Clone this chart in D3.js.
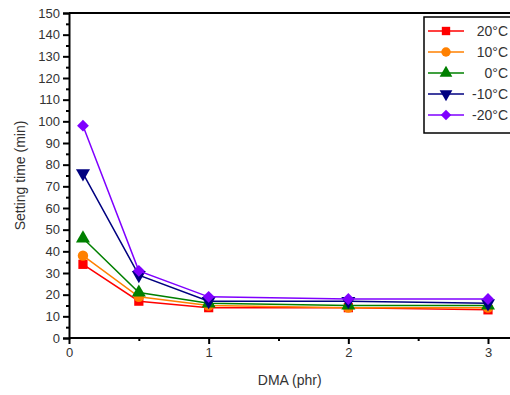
<!DOCTYPE html>
<html>
<head>
<meta charset="utf-8">
<script src="https://cdn.jsdelivr.net/npm/d3@7"></script>
<style>
  body { margin: 0; background: #fff; }
  text { font-family: "Liberation Sans", Arial, sans-serif; fill: #333; }
</style>
</head>
<body>
<svg id="chart" width="510" height="395"></svg>
<script>
let dma = [0.1, 0.5, 1, 2, 3];
let labels = ["20°C", "10°C", "0°C", "-10°C", "-20°C"];
let colors = ["#ff0000", "#ff8000", "#008000", "#000080", "#7f00ff"];
let symbols = [d3.symbolSquare, d3.symbolCircle, d3.symbolTriangle, d3.symbolTriangle, d3.symbolSquare];
let rotations = [0, 0, 0, 180, 45];
let t20 = [34, 17, 14, 14, 13];
let t10 = [38, 19, 15, 14, 14];
let t0 = [46, 21, 16, 15, 15];
let tm10 = [76, 29, 17, 17, 16];
let tm20 = [98, 31, 19, 18, 18];
let series = [t20, t10, t0, tm10, tm20];
let yTicks = d3.range(0, 151, 10);
let xTicks = [0, 1, 2, 3];

let svg = d3.select("#chart");

let x = d3.scaleLinear().domain([0, 3]).range([69, 488]);
let y = d3.scaleLinear().domain([0, 150]).range([338, 13]);

// frame top line
svg.append("line")
  .attr("x1", x(0)).attr("x2", 510)
  .attr("y1", y(150)).attr("y2", y(150))
  .attr("stroke", "#000").attr("stroke-width", 2);

// y axis
let yAxis = d3.axisLeft(y).tickValues(yTicks).tickSize(6).tickPadding(3);
let gy = svg.append("g").attr("transform", `translate(${x(0)},0)`).call(yAxis);
gy.select(".domain").attr("stroke-width", 2);
gy.selectAll(".tick line").attr("stroke-width", 2);
gy.selectAll(".tick text").attr("font-size", 13).attr("fill", "#333").attr("font-family", "Liberation Sans, Arial, sans-serif");
let gyMinor = svg.append("g").attr("transform", `translate(${x(0)},0)`)
  .call(d3.axisLeft(y).tickValues(d3.range(5, 150, 10)).tickSize(3).tickFormat(""));
gyMinor.select(".domain").remove();
gyMinor.selectAll(".tick line").attr("stroke-width", 2);

// x axis
let xAxis = d3.axisBottom(x).tickValues(xTicks).tickSize(6).tickPadding(4).tickFormat(d3.format("d"));
let gx = svg.append("g").attr("transform", `translate(0,${y(0)})`).call(xAxis);
gx.select(".domain").remove();
gx.append("line").attr("x1", x(0)).attr("x2", 510).attr("stroke", "#000").attr("stroke-width", 2);
gx.selectAll(".tick line").attr("stroke-width", 2);
gx.selectAll(".tick text").attr("font-size", 13).attr("fill", "#333").attr("font-family", "Liberation Sans, Arial, sans-serif");
let gxMinor = svg.append("g").attr("transform", `translate(0,${y(0)})`)
  .call(d3.axisBottom(x).tickValues([0.5, 1.5, 2.5]).tickSize(3).tickFormat(""));
gxMinor.select(".domain").remove();
gxMinor.selectAll(".tick line").attr("stroke-width", 2);

// axis titles
svg.append("text").attr("x", x(1.58)).attr("y", 385)
  .attr("text-anchor", "middle").attr("font-size", 14).text("DMA (phr)");
svg.append("text").attr("transform", `translate(25,${y(75)}) rotate(-90)`)
  .attr("text-anchor", "middle").attr("font-size", 14).text("Setting time (min)");

// series
let line = d3.line().x((d, i) => x(dma[i])).y(d => y(d));
series.forEach((s, k) => {
  svg.append("path").datum(s)
    .attr("d", line).attr("fill", "none")
    .attr("stroke", colors[k]).attr("stroke-width", 1.5);
  svg.selectAll(null).data(s).enter()
    .append("path")
    .attr("d", d3.symbol().type(symbols[k]).size(k == 4 ? 70 : 85))
    .attr("transform", (d, i) => `translate(${x(dma[i])},${y(d)}) rotate(${rotations[k]})`)
    .attr("fill", colors[k]);
});

// legend
let lg = svg.append("g");
lg.append("rect").attr("x", 424).attr("y", 17).attr("width", 100).attr("height", 116)
  .attr("fill", "#fff").attr("stroke", "#000").attr("stroke-width", 1.5);
labels.forEach((lab, k) => {
  let ly = 31 + k * 21;
  lg.append("line").attr("x1", 428).attr("x2", 464).attr("y1", ly).attr("y2", ly)
    .attr("stroke", colors[k]).attr("stroke-width", 1.5);
  lg.append("path")
    .attr("d", d3.symbol().type(symbols[k]).size(k == 4 ? 55 : 70))
    .attr("transform", `translate(446,${ly}) rotate(${rotations[k]})`)
    .attr("fill", colors[k]);
  lg.append("text").attr("x", 508).attr("y", ly + 5).attr("text-anchor", "end")
    .attr("font-size", 14).text(lab);
});
</script>
</body>
</html>
